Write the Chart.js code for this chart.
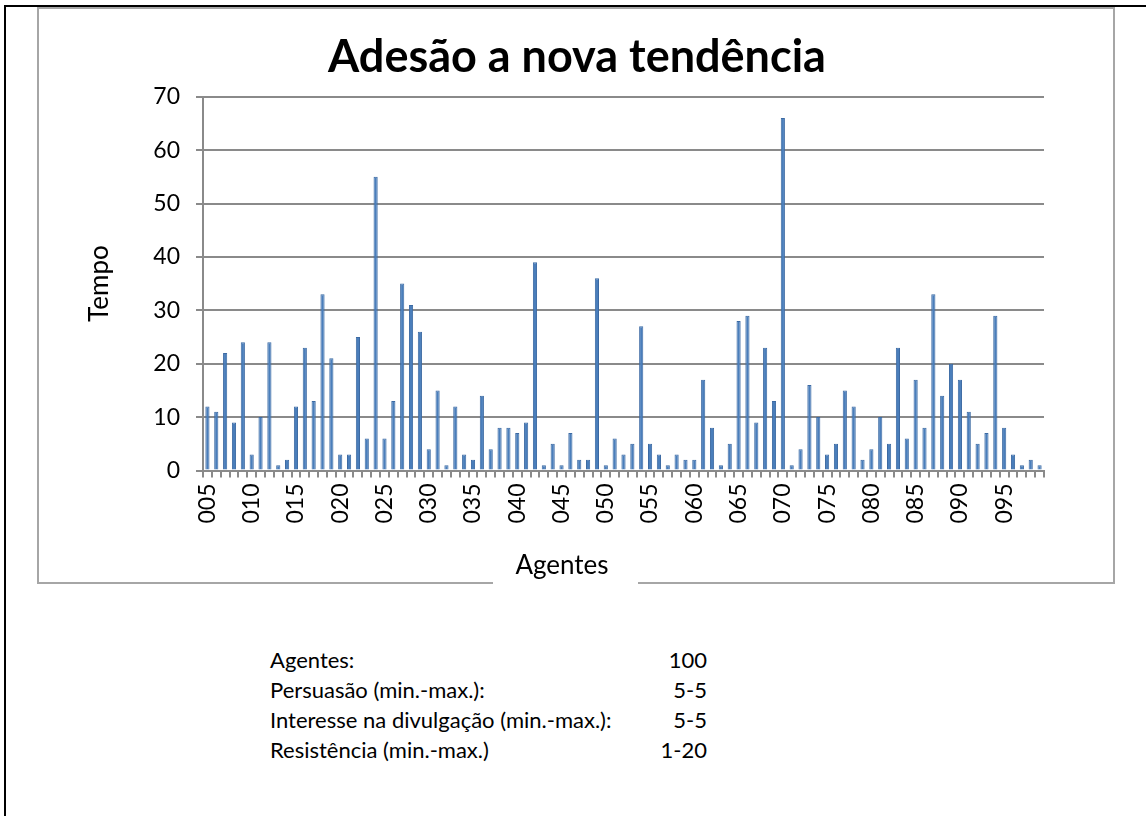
<!DOCTYPE html>
<html>
<head>
<meta charset="utf-8" />
<title>Adesão a nova tendência</title>
<script src="https://cdn.jsdelivr.net/npm/chart.js@4/dist/chart.umd.min.js"></script>
<style>
    body { margin: 0; background: #fff; font-family: Lato, sans-serif; }
    #page { position: absolute; left: 0; top: 0; width: 1146px; height: 816px; overflow: hidden; }
    .edge { position: absolute; background: #000; }
    #chartBox { position: absolute; left: 0; top: 0; }
    table.info { position: absolute; left: 270px; top: 644px; width: 437px; border-collapse: collapse; font-size: 22px; color: #000; }
    table.info td { height: 30px; padding: 0; white-space: nowrap; }
    table.info td.val { text-align: right; }
</style>
</head>
<body>
<div id="page">
    <canvas id="chartBox" width="1146" height="600"></canvas>
    <div class="edge" style="left:4px; top:5px; width:2px; height:811px;"></div>
    <div class="edge" style="left:4px; top:5px; width:1142px; height:2px;"></div>
    <table class="info" id="info"></table>
</div>
<script>
    // agents (category labels)
    var agentes = [
        "005","006","007","008","009","010","011","012","013","014",
        "015","016","017","018","019","020","021","022","023","024",
        "025","026","027","028","029","030","031","032","033","034",
        "035","036","037","038","039","040","041","042","043","044",
        "045","046","047","048","049","050","051","052","053","054",
        "055","056","057","058","059","060","061","062","063","064",
        "065","066","067","068","069","070","071","072","073","074",
        "075","076","077","078","079","080","081","082","083","084",
        "085","086","087","088","089","090","091","092","093","094",
        "095","096","097","098","099"
    ];
    // time until adoption, per agent
    var tempo = [
        12, 11, 22, 9, 24, 3, 10, 24, 1, 2,
        12, 23, 13, 33, 21, 3, 3, 25, 6, 55,
        6, 13, 35, 31, 26, 4, 15, 1, 12, 3,
        2, 14, 4, 8, 8, 7, 9, 39, 1, 5,
        1, 7, 2, 2, 36, 1, 6, 3, 5, 27,
        5, 3, 1, 3, 2, 2, 17, 8, 1, 5,
        28, 29, 9, 23, 13, 66, 1, 4, 16, 10,
        3, 5, 15, 12, 2, 4, 10, 5, 23, 6,
        17, 8, 33, 14, 20, 17, 11, 5, 7, 29,
        8, 3, 1, 2, 1
    ];
    var yTicks = [0, 10, 20, 30, 40, 50, 60, 70];

    var paramNames = ["Agentes:", "Persuasão (min.-max.):", "Interesse na divulgação (min.-max.):", "Resistência (min.-max.)"];
    var paramValues = ["100", "5-5", "5-5", "1-20"];

    var info = document.getElementById("info");
    for (var i = 0; i < paramNames.length; i++) {
        var tr = document.createElement("tr");
        tr.innerHTML = "<td>" + paramNames[i] + "</td><td class='val'>" + paramValues[i] + "</td>";
        info.appendChild(tr);
    }

    var gridGray = '#8a8a8a';

    // frame around the chart, title centred on the frame, x axis title on the bottom edge
    var framePlugin = {
        id: 'frame',
        beforeDraw: function (chart) {
            var ctx = chart.ctx;
            ctx.save();
            ctx.fillStyle = '#fff';
            ctx.fillRect(0, 0, chart.width, chart.height);
            ctx.strokeStyle = '#a6a6a6';
            ctx.lineWidth = 2;
            ctx.strokeRect(38, 8, 1076, 575);
            ctx.restore();
        },
        afterDraw: function (chart) {
            var ctx = chart.ctx;
            ctx.save();
            ctx.textAlign = 'center';
            ctx.textBaseline = 'middle';
            ctx.fillStyle = '#000';
            ctx.font = 'bold 45px Lato';
            ctx.fillText('Adesão a nova tendência', 577, 57);
            ctx.fillStyle = '#fff';
            ctx.fillRect(493, 550, 145, 36);
            ctx.fillStyle = '#000';
            ctx.font = '26px Lato';
            ctx.fillText('Agentes', 562, 566);
            ctx.restore();
        }
    };

    new Chart(document.getElementById('chartBox'), {
        type: 'bar',
        data: {
            labels: agentes,
            datasets: [{
                data: tempo,
                backgroundColor: '#4a7ebb',
                borderColor: '#3c6aa3',
                borderWidth: 1,
                barPercentage: 0.47,
                categoryPercentage: 1
            }]
        },
        options: {
            responsive: false,
            animation: false,
            layout: { padding: { left: 80, right: 102, top: 96.7, bottom: 0 } },
            plugins: {
                legend: { display: false },
                tooltip: { enabled: false },
                title: { display: false }
            },
            scales: {
                x: {
                    grid: { drawOnChartArea: false, drawTicks: true, tickLength: 7, color: gridGray, lineWidth: 2, offset: true },
                    border: { color: gridGray, width: 2 },
                    ticks: {
                        autoSkip: false,
                        minRotation: 90,
                        maxRotation: 90,
                        padding: 6,
                        color: '#000',
                        font: { family: 'Lato', size: 23 },
                        callback: function (v, i) { return i % 5 === 0 ? agentes[i] : ''; }
                    },
                    afterFit: function (s) { s.height = 129.5; }
                },
                y: {
                    min: 0,
                    max: 70,
                    afterBuildTicks: function (s) { s.ticks = yTicks.map(function (v) { return { value: v }; }); },
                    ticks: { color: '#000', font: { family: 'Lato', size: 23 }, padding: 16 },
                    grid: { color: gridGray, lineWidth: 2, tickLength: 7 },
                    border: { color: gridGray, width: 2 },
                    title: {
                        display: true,
                        text: 'Tempo',
                        color: '#000',
                        font: { family: 'Lato', size: 26 },
                        padding: { top: 4, bottom: 4 }
                    },
                    afterFit: function (s) { s.width = 123; }
                }
            }
        },
        plugins: [framePlugin]
    });
</script>
</body>
</html>
